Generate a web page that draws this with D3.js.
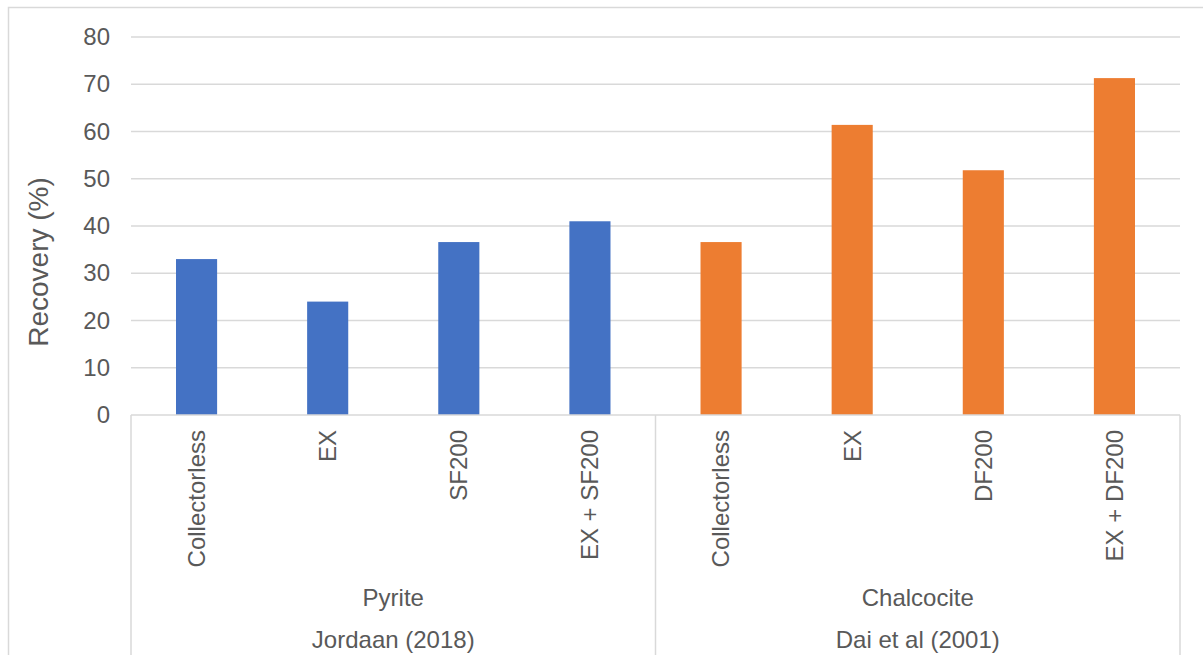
<!DOCTYPE html>
<html>
<head>
<meta charset="utf-8">
<script src="https://cdn.jsdelivr.net/npm/d3@7"></script>
<style>
  html, body { margin: 0; padding: 0; background: #fff; }
  svg text { font-family: "Liberation Sans", Arial, sans-serif; fill: #595959; }
</style>
</head>
<body>
<svg id="chart" width="1203" height="655"></svg>
<script>
// Flotation recovery by collector, grouped by mineral and source study
const treatments = ["Collectorless", "EX", "SF200", "EX + SF200",
                    "Collectorless", "EX", "DF200", "EX + DF200"];
const minerals = ["Pyrite", "Chalcocite"];
const studies = ["Jordaan (2018)", "Dai et al (2001)"];
const groupSize = 4;
const recovery = [33.0, 24.0, 36.6, 41.0, 36.6, 61.4, 51.8, 71.3];
const barColors = ["#4472C4", "#ED7D31"];
const yTicks = [0, 10, 20, 30, 40, 50, 60, 70, 80];

const svg = d3.select("#chart");
const W = 1203, H = 655;
const plot = { left: 131, right: 1180, top: 37, bottom: 415 };

// Chart frame
svg.append("rect")
  .attr("x", 8.5).attr("y", 7.5)
  .attr("width", W + 10).attr("height", H + 10)
  .attr("fill", "none").attr("stroke", "#d9d9d9").attr("stroke-width", 1.5);

const x = d3.scaleBand()
  .domain(d3.range(treatments.length))
  .range([plot.left, plot.right])
  .paddingInner(0.6865).paddingOuter(0.34325);

const y = d3.scaleLinear().domain([0, 80]).range([plot.bottom, plot.top]);

// Gridlines
svg.append("g")
  .selectAll("line")
  .data(yTicks.filter(d => d > 0))
  .join("line")
  .attr("x1", plot.left).attr("x2", plot.right)
  .attr("y1", d => y(d)).attr("y2", d => y(d))
  .attr("stroke", "#d9d9d9").attr("stroke-width", 1.4);

// Y axis tick labels
const yAxis = d3.axisLeft(y).tickValues(yTicks).tickSize(0).tickPadding(21);
const yg = svg.append("g").attr("transform", `translate(${plot.left},0)`).call(yAxis);
yg.select(".domain").remove();
yg.selectAll("text")
  .attr("font-size", 24)
  .attr("font-family", "Liberation Sans, Arial, sans-serif")
  .attr("fill", "#595959");

// Bars
svg.append("g")
  .selectAll("rect")
  .data(recovery)
  .join("rect")
  .attr("x", (d, i) => x(i))
  .attr("width", x.bandwidth())
  .attr("y", d => y(d))
  .attr("height", d => y(0) - y(d))
  .attr("fill", (d, i) => barColors[Math.floor(i / groupSize)]);

// Category axis baseline and group dividers
const step = (plot.right - plot.left) / treatments.length;
svg.append("line")
  .attr("x1", plot.left).attr("x2", plot.right)
  .attr("y1", plot.bottom).attr("y2", plot.bottom)
  .attr("stroke", "#d9d9d9").attr("stroke-width", 1.5);

const dividers = d3.range(minerals.length + 1).map(g => plot.left + g * groupSize * step);
svg.append("g")
  .selectAll("line")
  .data(dividers)
  .join("line")
  .attr("x1", d => d).attr("x2", d => d)
  .attr("y1", plot.bottom).attr("y2", H + 5)
  .attr("stroke", "#d9d9d9").attr("stroke-width", 1.5);

// Treatment labels (rotated)
svg.append("g")
  .selectAll("text")
  .data(treatments)
  .join("text")
  .attr("transform", (d, i) => `translate(${x(i) + x.bandwidth() / 2},430) rotate(-90)`)
  .attr("text-anchor", "end")
  .attr("dy", "0.35em")
  .attr("font-size", 24)
  .text(d => d);

// Mineral and study labels
const groupCenters = d3.range(minerals.length).map(g => plot.left + (g * groupSize + groupSize / 2) * step);
svg.append("g")
  .selectAll("text")
  .data(minerals)
  .join("text")
  .attr("x", (d, i) => groupCenters[i])
  .attr("y", 606)
  .attr("text-anchor", "middle")
  .attr("font-size", 24)
  .text(d => d);

svg.append("g")
  .selectAll("text")
  .data(studies)
  .join("text")
  .attr("x", (d, i) => groupCenters[i])
  .attr("y", 648)
  .attr("text-anchor", "middle")
  .attr("font-size", 24)
  .text(d => d);

// Y axis title
svg.append("text")
  .attr("transform", "translate(38,262) rotate(-90)")
  .attr("text-anchor", "middle")
  .attr("dy", "0.35em")
  .attr("font-size", 28)
  .text("Recovery (%)");
</script>
</body>
</html>
